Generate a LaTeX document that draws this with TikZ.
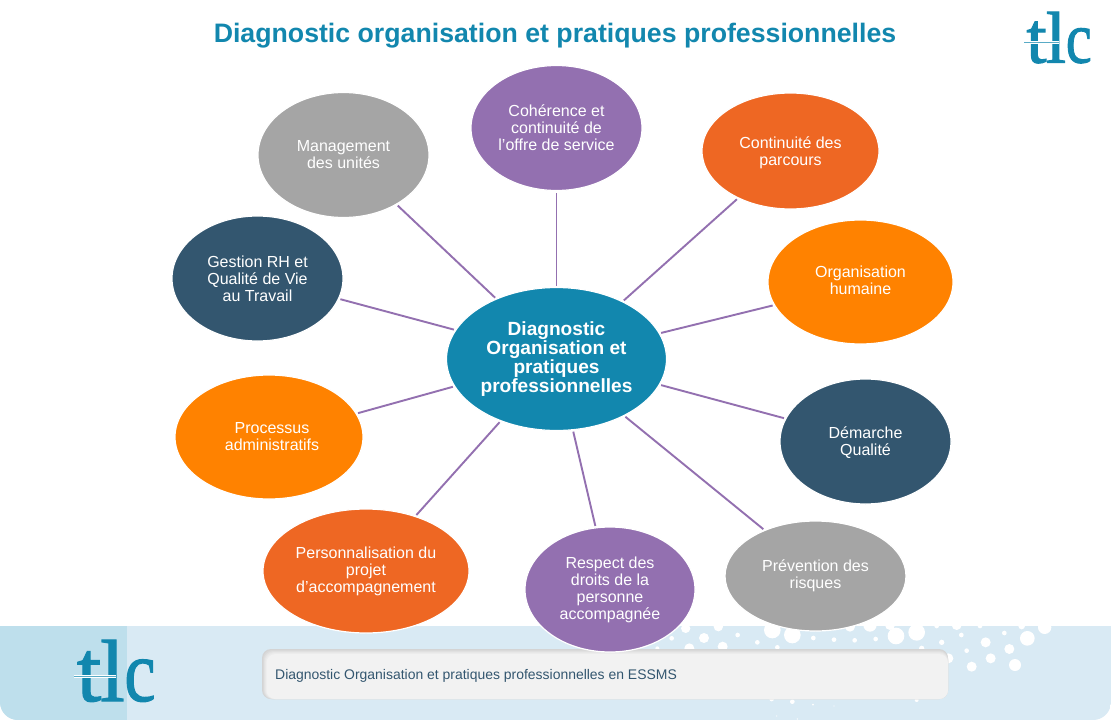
\documentclass[tikz,border=0pt]{standalone}
\usepackage{fontspec}
\setmainfont{Liberation Sans}
\newfontfamily\logofont[FakeBold=1.4]{Liberation Serif}
\usetikzlibrary{shapes.geometric}
\definecolor{tealc}{HTML}{1287AE}
\definecolor{purplec}{HTML}{9370B0}
\definecolor{orangec}{HTML}{FF8200}
\definecolor{redc}{HTML}{EE6723}
\definecolor{greyc}{HTML}{A5A5A5}
\definecolor{navyc}{HTML}{33566F}
\definecolor{bandc}{HTML}{D9EAF4}
\definecolor{banddark}{HTML}{BEDFEC}
\definecolor{linkc}{HTML}{9370B0}
\tikzset{
  x=1pt,y=-1pt,
  bubble/.style={ellipse,draw=white,line width=1.2pt,inner sep=0pt,outer sep=0pt,
    text=white,align=center,font=\fontsize{16}{17}\selectfont},
  link/.style={draw=linkc,line width=1.9pt,shorten <=2pt,shorten >=2pt},
  hubnode/.style={bubble,fill=tealc,minimum width=220,minimum height=143,
    font=\fontsize{19.1}{19}\selectfont\bfseries},
  std/.style={minimum width=171,minimum height=125},
  titletext/.style={text=tealc,font=\fontsize{26.7}{30}\selectfont\bfseries,inner sep=0pt},
  captiontext/.style={text=navyc,font=\fontsize{13.95}{15}\selectfont,inner sep=0pt},
  logoletter/.style={text=tealc,inner sep=0pt,anchor=base,font=\logofont\fontsize{88}{88}\selectfont}
}
\newcommand{\tlclogo}[3]{%
  \begin{scope}[shift={(#1,#2)},scale=#3,transform shape]
    \node[logoletter] (#1t) at (15,61) {t};
    \node[logoletter] (#1l) at (38.5,61) {l};
    \node[logoletter,xscale=0.8] (#1c) at (66,61) {c};
    \fill[white] (0,34.6) rectangle (42,38.4);
    \fill[tealc!70] (0,36) rectangle (42,37);
  \end{scope}}
\begin{document}
\begin{tikzpicture}
\useasboundingbox (0,0) rectangle (1111,720);
\fill[white] (0,0) rectangle (1111,720);
% band
\begin{scope}
  \clip (0,626) -- (1111,626) -- (1111,702) arc[start angle=0,end angle=90,radius=18,y radius=18] -- (18,720) arc[start angle=90,end angle=180,radius=18] -- cycle;
  \fill[bandc] (0,626) rectangle (1111,720);
  \fill[banddark] (0,626) rectangle (127,720);
  \foreach \a/\b/\r in {137/55/14,235/50/14,293/75/7,192/84/15,95/85/7,148/115/15,248/110/15,352/97/7,
    397/60/25,457/75/25,520/84/7,582/89/7,644/91/7,707/87/7,768/78/25,830/67/25,690/45/20,630/50/15,
    750/45/15,890/48/7,950/45/15,1020/48/7,905/97/8,964/75/7,1037/97/15,1093/69/7,1162/85/22,1214/52/20,
    1108/117/15,980/122/7,1052/145/15,995/170/15,1125/165/18,925/145/15,845/115/8,412/112/7,52/115/6,
    395/267/7,457/275/7,830/270/6,519/284/3,582/288/2,410/318/2,472/327/2,1145/48/10}
    \fill[white] ({640+\a/3},{610+\b/3}) circle[radius={\r/3}];
\end{scope}
% caption box
\fill[rounded corners=9pt,fill=black!17] (262,649) rectangle (948,699);
\foreach \i/\c in {1/15,2/12,3/9.5,4/7.5,5/5.2}
  \fill[rounded corners=9pt,fill=black!\c] ({262+\i*0.9},{649+\i}) rectangle (948,699);
\node[captiontext,anchor=west] (caption) at (275,676) {Diagnostic Organisation et pratiques professionnelles en ESSMS};
% title
\node[titletext] (title) at (555,36) {Diagnostic organisation et pratiques professionnelles};
% logos
\tlclogo{74}{640}{1}
\tlclogo{1024}{12}{0.83}
% nodes
\node[hubnode] (hub) at (556.5,359) {Diagnostic\\Organisation et\\pratiques\\professionnelles};
\node[bubble,std,fill=greyc] (mgmt) at (343.5,155) {Management\\des unités};
\node[bubble,std,fill=purplec] (coh) at (556.5,128) {Cohérence et\\continuité de\\l’offre de service};
\node[bubble,fill=redc,minimum width=177,minimum height=116] (cont) at (790.5,151) {\rule{0pt}{15.6pt}Continuité des\\parcours};
\node[bubble,fill=orangec,minimum width=185,minimum height=124] (org) at (860.5,282) {Organisation\\humaine\rule[-4pt]{0pt}{0pt}};
\node[bubble,std,fill=navyc] (dem) at (865.5,441.5) {\rule{0pt}{14pt}Démarche\\Qualité};
\node[bubble,fill=greyc,minimum width=181,minimum height=110] (prev) at (815.5,576) {Prévention des\\risques};
\node[bubble,fill=purplec,minimum width=170,minimum height=125] (resp) at (610,589.5) {Respect des\\droits de la\\personne\\accompagnée};
\node[bubble,fill=redc,minimum width=206,minimum height=124] (pers) at (366,571) {Personnalisation du\\projet\\d'accompagnement};
\node[bubble,fill=orangec,minimum width=188,minimum height=124] (proc) at (269,437) {\hspace*{6pt}Processus\\\hspace*{6pt}administratifs};
\node[bubble,std,fill=navyc] (gest) at (257.5,278.5) {Gestion RH et\\Qualité de Vie\\au Travail};
% connectors
\foreach \ha/\sat/\sa in {135/mgmt/-43.6,90/coh/-90,41.6/cont/-138.6,14.6/org/-165.9,-14.6/dem/164.5,
  -40.3/prev/138.7,-77.1/resp/103.3,-132.3/pers/48.2,-165.2/proc/15.1,164.7/gest/-14.6}
  \draw[link] (hub.\ha) -- (\sat.\sa);
\end{tikzpicture}
\end{document}
